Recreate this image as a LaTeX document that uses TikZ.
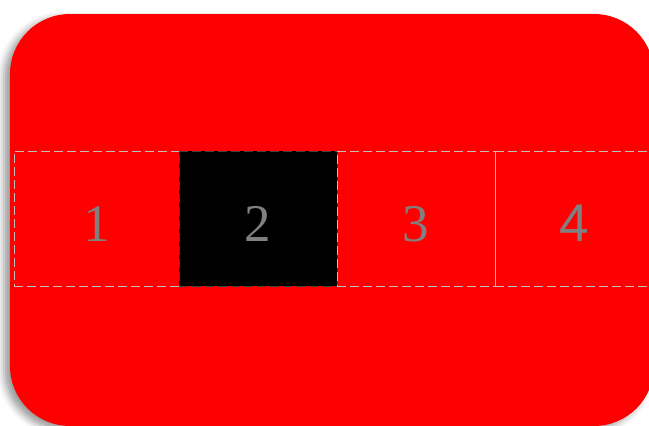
\documentclass[tikz,border=0pt]{standalone}
\usepackage{fontspec}
\setmainfont{Liberation Serif}
\newfontfamily\digitsans{Liberation Sans}
\usetikzlibrary{positioning,shadows.blur}

\begin{document}
\begin{tikzpicture}[
  x=1pt, y=-1pt,
  node distance=0pt,
  panel/.style={fill=red, rounded corners=60pt,
    blur shadow={shadow xshift=-6pt, shadow yshift=-4pt, shadow blur radius=7pt, shadow opacity=40}},
  cell/.style={rectangle, draw=gray!50, line width=0.6pt, dash pattern=on 9pt off 4pt, inner sep=0pt, outer sep=0pt,
    minimum width=158pt, minimum height=135pt, text=gray,
    text height=46pt, text depth=0pt, font=\fontsize{53}{60}\selectfont},
  marked/.style={cell, fill=black, draw=darkgray}
]

% --- PAGE AND PANEL ---
\useasboundingbox (0,0) rectangle (649,426);
\clip (0,0) rectangle (649,426);
\path[panel] (10,14) rectangle (654,426);

% --- ROW OF CELLS ---
\node[cell, minimum width=165pt] (one) at (96.5,218.5) {1};
\node[marked, right=of one] (two) {2};
\node[cell, right=of two] (three) {3};
\node[cell, right=of three, font=\fontsize{53}{60}\selectfont\digitsans] (four) {4};

\end{tikzpicture}
\end{document}
